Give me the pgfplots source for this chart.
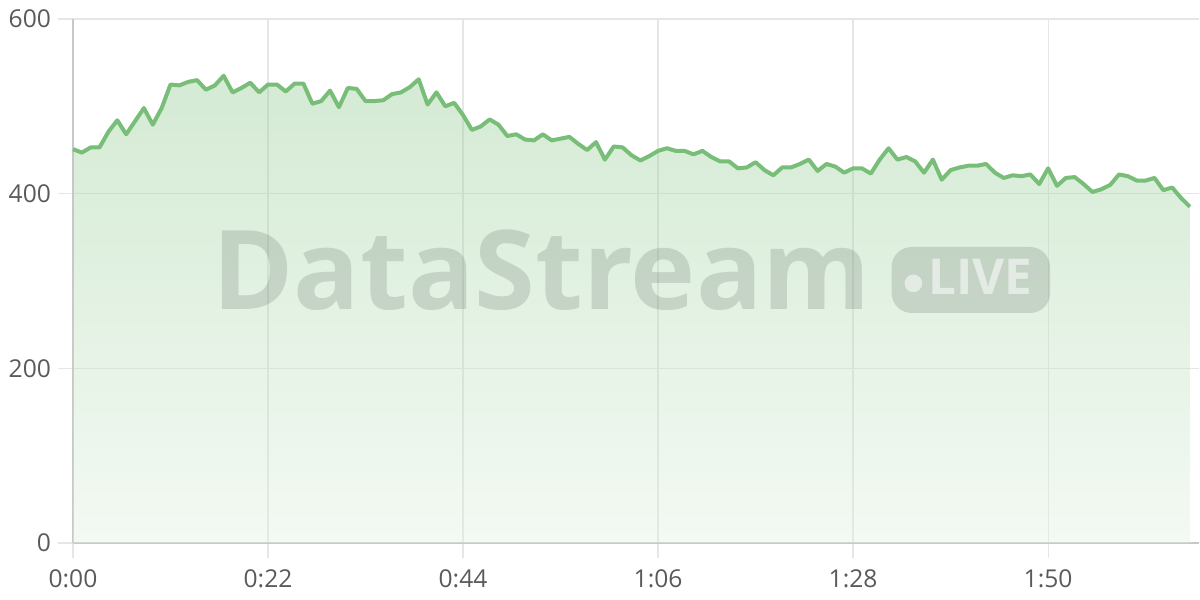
\documentclass[border=0pt]{standalone}
\usepackage{fontspec}
\setmainfont{Open Sans}
\usepackage{pgfplots}
\usepackage{pgfplotstable}
\pgfplotsset{compat=1.18}
\definecolor{lc}{RGB}{120,190,120}
\definecolor{gridgray}{RGB}{230,230,230}
\definecolor{axisgray}{RGB}{200,200,200}
\definecolor{tickgray}{RGB}{90,90,90}
\definecolor{wm}{RGB}{80,95,85}
\pgfplotstableread{
t v
0 451
1 447
2 453
3 453
4 471
5 484
6 468
7 483
8 498
9 479
10 498
11 525
12 524
13 528
14 530
15 519
16 524
17 535
18 516
19 521
20 527
21 516
22 525
23 525
24 517
25 526
26 526
27 503
28 506
29 518
30 499
31 521
32 520
33 506
34 506
35 507
36 514
37 516
38 522
39 531
40 502
41 516
42 500
43 504
44 490
45 473
46 477
47 485
48 479
49 466
50 468
51 462
52 461
53 468
54 461
55 463
56 465
57 457
58 450
59 459
60 439
61 454
62 453
63 444
64 438
65 443
66 449
67 452
68 449
69 449
70 445
71 449
72 442
73 437
74 437
75 429
76 430
77 436
78 427
79 421
80 430
81 430
82 434
83 439
84 426
85 434
86 431
87 424
88 429
89 429
90 423
91 439
92 452
93 439
94 442
95 437
96 424
97 439
98 416
99 427
100 430
101 432
102 432
103 434
104 424
105 418
106 421
107 420
108 422
109 411
110 429
111 409
112 418
113 419
114 411
115 402
116 405
117 410
118 422
119 420
120 415
121 415
122 418
123 404
124 407
125 395
126 385
}\datatable
\begin{document}
\begin{tikzpicture}
\useasboundingbox (0,0) rectangle (600pt,300pt);
\begin{axis}[
  at={(36.5pt,28.5pt)}, anchor=south west,
  scale only axis, width=562.9pt, height=262pt,
  xmin=0, xmax=127, ymin=0, ymax=600,
  axis x line*=bottom, axis y line*=left,
  axis line style={draw=axisgray, line width=0.75pt, -},
  xtick={0,22,44,66,88,110},
  xticklabels={0:00,0:22,0:44,1:06,1:28,1:50},
  ytick={0,200,400,600},
  grid=major,
  major grid style={draw=gridgray, line width=0.6pt},
  tick align=outside,
  major tick length=7.5pt,
  tick style={draw=gridgray, line width=0.6pt},
  tick label style={font=\fontsize{12.3}{14}\selectfont, text=tickgray},
  xticklabel style={yshift=-2.5pt},
  /pgf/number format/assume math mode=true,
  clip=false,
]
\addplot[draw=none, top color=lc!80!white, bottom color=lc!22!white, fill opacity=0.4] table[x=t,y=v] {\datatable} \closedcycle;
\addplot[lc, line width=2pt, line join=round] table[x=t,y=v] {\datatable};
\end{axis}
\node[anchor=base west, inner sep=0pt, text=wm, text opacity=0.2] at (106pt,145pt) {\resizebox{329pt}{!}{\bfseries DataStream}};
\fill[wm, opacity=0.2, rounded corners=10pt] (445.8pt,143.5pt) rectangle (525pt,176.5pt);
\fill[white, opacity=0.55] (456.7pt,158.3pt) circle (4.4pt);
\node[anchor=base west, inner sep=0pt, text=white, text opacity=0.55] at (464pt,152.5pt) {\resizebox{52pt}{!}{\bfseries LIVE}};
\end{tikzpicture}
\end{document}
